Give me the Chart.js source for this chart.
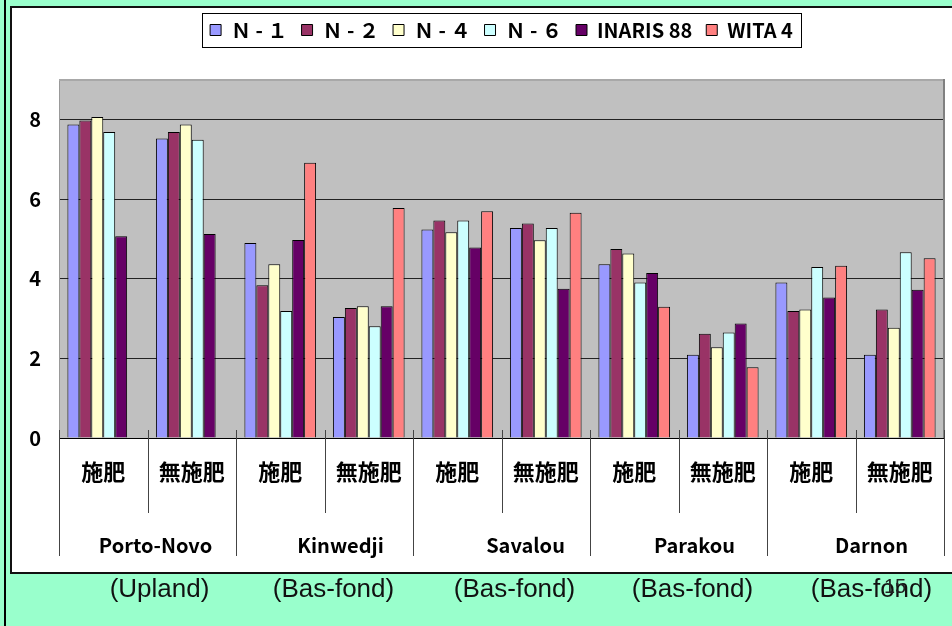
<!DOCTYPE html>
<html>
<head>
<meta charset="utf-8">
<script src="https://cdn.jsdelivr.net/npm/chart.js@4/dist/chart.umd.min.js"></script>
<style>
  html, body { margin: 0; padding: 0; background: #99FFCC; }
  canvas { display: block; }
</style>
</head>
<body>
<canvas id="yieldChart" width="952" height="626"></canvas>
<script>
// Grain yield by variety, site and fertilizer treatment
const treatments = ['施肥', '無施肥'];
const sites = ['Porto-Novo', 'Kinwedji', 'Savalou', 'Parakou', 'Darnon'];
const terrains = ['(Upland)', '(Bas-fond)', '(Bas-fond)', '(Bas-fond)', '(Bas-fond)'];
const varieties = ['Ｎ - １', 'Ｎ - ２', 'Ｎ - ４', 'Ｎ - ６', 'INARIS 88', 'WITA 4'];
const yTicks = [0, 2, 4, 6, 8];
const pageNumber = '15';

// one value per category: site by site, 施肥 then 無施肥
const n1     = [7.88, 7.53, 4.90, 3.04, 5.24, 5.28, 4.37, 2.09, 3.91, 2.09];
const n2     = [7.98, 7.69, 3.84, 3.27, 5.47, 5.39, 4.75, 2.62, 3.19, 3.23];
const n4     = [8.07, 7.88, 4.37, 3.31, 5.17, 4.97, 4.64, 2.28, 3.23, 2.77];
const n6     = [7.69, 7.50, 3.19, 2.81, 5.47, 5.28, 3.91, 2.65, 4.30, 4.67];
const inaris = [5.07, 5.13, 4.98, 3.31, 4.79, 3.75, 4.15, 2.88, 3.53, 3.73];
const wita   = [null, null, 6.92, 5.78, 5.70, 5.66, 3.30, 1.78, 4.33, 4.52];

const series = [n1, n2, n4, n6, inaris, wita];
const colors = ['#9999FF', '#993366', '#FFFFCC', '#CCFFFF', '#660066', '#FF8080'];
const categories = sites.flatMap(() => treatments);

// horizontal nudges of the site names and terrain notes from their group centres
const siteNudge = [8, 16, 24, 16, 16];
const terrainNudge = [12, 9, 13, 14, 16];

const GOTHIC = '"Noto Sans CJK JP", "DejaVu Sans", sans-serif';
const SANS = '"Liberation Sans", Arial, sans-serif';

// Slide frame: green page, white panel with dark edges, grey plot area
const framePlugin = {
  id: 'frame',
  beforeDraw(chart) {
    const { ctx, width, height, chartArea: a } = chart;
    ctx.save();
    ctx.fillStyle = '#99FFCC';
    ctx.fillRect(0, 0, width, height);
    ctx.fillStyle = '#000';
    ctx.fillRect(4, 0, 2, height);
    ctx.fillStyle = '#FFFFFF';
    ctx.fillRect(10, 6, width - 10, 568);
    ctx.fillStyle = '#111';
    ctx.fillRect(10, 6, 2, 568);
    ctx.fillRect(10, 6, width - 10, 2);
    ctx.fillRect(10, 572, width - 10, 2);
    ctx.fillStyle = '#C0C0C0';
    ctx.fillRect(a.left, a.top, a.right - a.left, a.bottom - a.top);
    ctx.restore();
  },
  afterDatasetsDraw(chart) {
    const { ctx, chartArea: a } = chart;
    ctx.save();
    ctx.fillStyle = '#A8A8A8';
    ctx.fillRect(a.left, a.top - 1, a.right - a.left, 2);
    ctx.fillStyle = '#808080';
    ctx.fillRect(a.right - 1, a.top - 1, 2, a.bottom - a.top + 1);
    ctx.restore();
  }
};

// Grouped category axis: dividers, site names and terrain notes, legend frame, page number
const groupAxisPlugin = {
  id: 'groupAxis',
  afterDraw(chart) {
    const { ctx, chartArea: a } = chart;
    const xs = chart.scales.x;
    const n = categories.length;
    const step = (xs.right - xs.left) / n;
    ctx.save();
    ctx.strokeStyle = '#444';
    ctx.lineWidth = 1;
    for (let i = 0; i <= n; i++) {
      const x = Math.round(xs.left + i * step) + 0.5;
      const long = i % treatments.length === 0;
      ctx.beginPath();
      ctx.moveTo(x, a.bottom - 8);
      ctx.lineTo(x, a.bottom + (long ? 118 : 75));
      ctx.stroke();
    }
    ctx.textAlign = 'center';
    ctx.textBaseline = 'middle';
    sites.forEach((site, s) => {
      const i0 = s * treatments.length;
      const cx = (xs.getPixelForValue(i0) + xs.getPixelForValue(i0 + 1)) / 2;
      ctx.font = 'bold 20px ' + GOTHIC;
      ctx.fillStyle = '#000';
      ctx.fillText(site, cx + siteNudge[s], a.bottom + 107);
      ctx.font = '26px ' + SANS;
      ctx.fillStyle = '#111';
      ctx.fillText(terrains[s], cx + terrainNudge[s], a.bottom + 152);
    });
    ctx.font = '20px ' + SANS;
    ctx.fillStyle = '#222';
    ctx.fillText(pageNumber, 895, 587);

    const boxes = chart.legend.legendHitBoxes;
    if (boxes && boxes.length) {
      const l = Math.min(...boxes.map(b => b.left)) - 8;
      const r = Math.max(...boxes.map(b => b.left + b.width)) + 8;
      const t = Math.min(...boxes.map(b => b.top)) - 7;
      const btm = Math.max(...boxes.map(b => b.top + b.height)) + 7;
      ctx.strokeStyle = '#000';
      ctx.strokeRect(Math.round(l) + 0.5, Math.round(t) + 0.5, Math.round(r - l), Math.round(btm - t));
    }
    ctx.restore();
  }
};

new Chart(document.getElementById('yieldChart'), {
  type: 'bar',
  data: {
    labels: categories,
    datasets: varieties.map((name, k) => ({
      label: name,
      data: series[k],
      backgroundColor: colors[k],
      borderColor: '#000',
      borderWidth: 1,
      borderSkipped: 'start'
    }))
  },
  options: {
    responsive: false,
    devicePixelRatio: 1,
    animation: false,
    layout: { padding: { top: 6, right: 8, left: 0, bottom: 0 } },
    datasets: { bar: { categoryPercentage: 0.81, barPercentage: 1 } },
    plugins: {
      legend: {
        position: 'top',
        fullSize: false,
        labels: {
          boxWidth: 11,
          boxHeight: 11,
          padding: 14,
          color: '#000',
          font: { family: GOTHIC, size: 20, weight: 'bold' }
        }
      },
      title: { display: true, text: '', weight: 500, padding: { top: 0, bottom: 18 }, font: { size: 10 } },
      tooltip: { enabled: false }
    },
    scales: {
      x: {
        grid: { display: false },
        border: { display: true, color: '#000', width: 1 },
        ticks: {
          autoSkip: false,
          maxRotation: 0,
          padding: 12,
          color: '#000',
          font: { family: GOTHIC, size: 22, weight: 'bold' }
        },
        afterFit(scale) { scale.height = 188; }
      },
      y: {
        min: 0,
        max: 9,
        grid: { color: '#222', drawTicks: false },
        border: { color: '#999', width: 1 },
        ticks: {
          stepSize: 2,
          padding: 18,
          color: '#000',
          font: { family: GOTHIC, size: 20, weight: 'bold' }
        },
        afterBuildTicks(scale) { scale.ticks = yTicks.map(v => ({ value: v })); },
        afterFit(scale) { scale.width = 59; }
      }
    }
  },
  plugins: [framePlugin, groupAxisPlugin]
});
</script>
</body>
</html>
